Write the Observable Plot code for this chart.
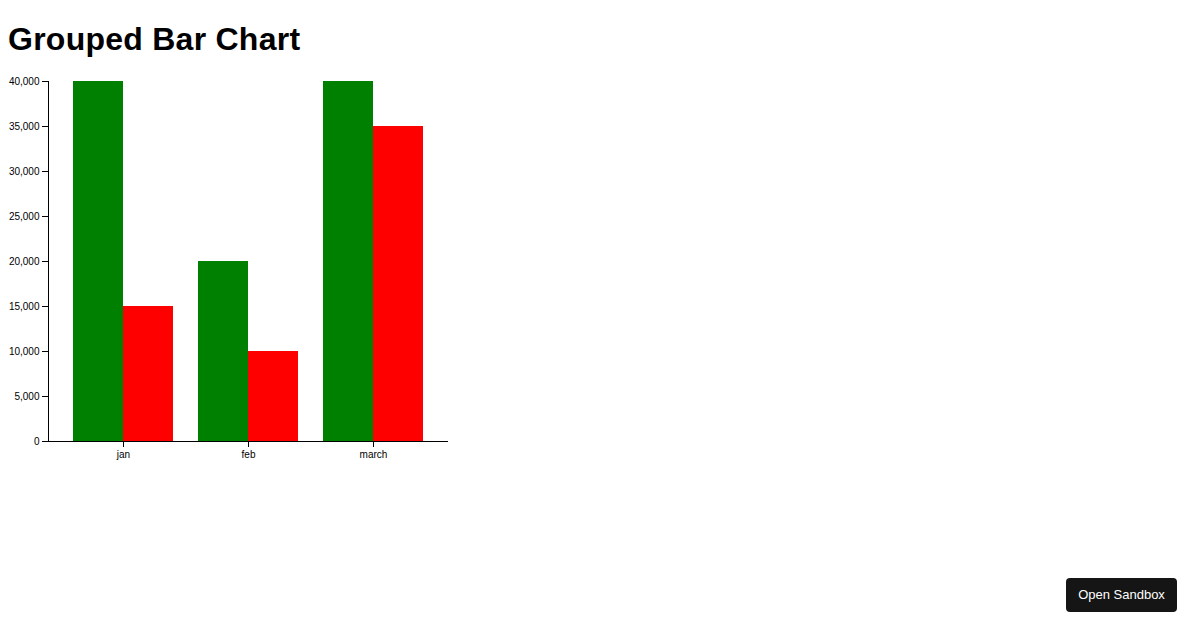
<!DOCTYPE html>
<html>
<head>
<meta charset="utf-8">
<script src="https://cdn.jsdelivr.net/npm/d3@7"></script>
<script src="https://cdn.jsdelivr.net/npm/@observablehq/plot@0.6"></script>
<style>
  html, body { margin: 0; padding: 0; background: #fff; }
  body { font-family: "Liberation Sans", Arial, sans-serif; width: 1200px; height: 630px; position: relative; overflow: hidden; }
  h1 { margin: 21px 8px 0 8px; font: bold 32px/37px "Liberation Sans", Arial, sans-serif; letter-spacing: 0.25px; color: #000; }
  #chart { margin-top: 12px; }
  #chart svg { overflow: visible; display: block; }
  .sandbox-btn {
    position: absolute; left: 1066px; top: 578px; width: 111px; height: 34px;
    background: #151515; color: #fff; border-radius: 4px;
    font: 13px/34px "Liberation Sans", Arial, sans-serif; text-align: center;
  }
</style>
</head>
<body>
<h1>Grouped Bar Chart</h1>
<div id="chart"></div>
<div class="sandbox-btn">Open Sandbox</div>
<script>
const months = ["jan", "feb", "march"];
const greenValues = [40000, 20000, 40000];
const redValues = [15000, 10000, 35000];
const yTicks = [0, 5000, 10000, 15000, 20000, 25000, 30000, 35000, 40000];

const greenData = months.map((m, i) => ({month: m, value: greenValues[i]}));
const redData = months.map((m, i) => ({month: m, value: redValues[i]}));

const W = 460, mL = 48, mR = 12;
const bandwidth = (W - mL - mR) / (months.length + 0.2) * 0.8;
const half = bandwidth / 2;
const fmt = d3.format(",");

const chart = Plot.plot({
  width: W,
  height: 401,
  marginTop: 11,
  marginBottom: 30,
  marginLeft: mL,
  marginRight: mR,
  style: {fontFamily: "Liberation Sans, Arial, sans-serif", fontSize: "10px", color: "#000", background: "#fff"},
  x: {domain: months, padding: 0.2, label: null, tickSize: 6},
  y: {domain: [0, 40000], ticks: yTicks, tickFormat: (d) => fmt(d), label: null, tickSize: 6},
  marks: [
    Plot.barY(greenData, {x: "month", y: "value", fill: "green", insetLeft: 0, insetRight: half}),
    Plot.barY(redData, {x: "month", y: "value", fill: "red", insetLeft: half, insetRight: 0}),
    Plot.ruleY([0], {stroke: "#000"}),
    Plot.frame({anchor: "left", stroke: "#000"})
  ]
});
document.getElementById("chart").appendChild(chart);
</script>
</body>
</html>
